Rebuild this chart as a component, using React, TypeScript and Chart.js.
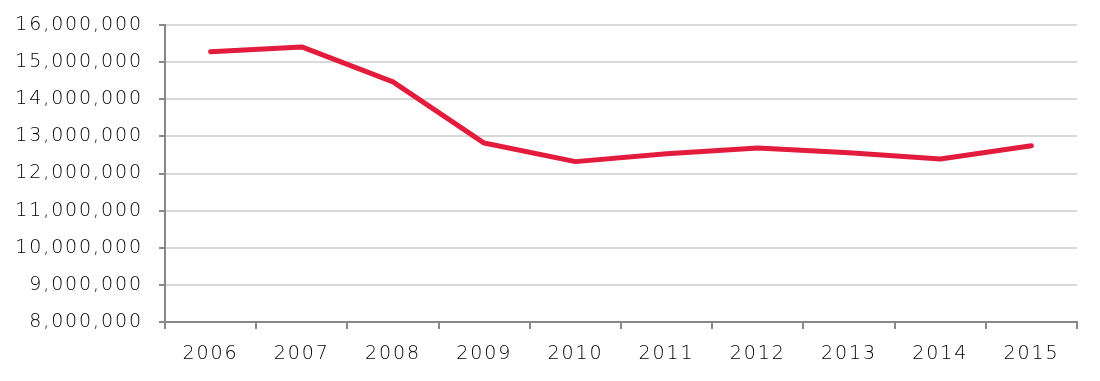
import React, { useEffect, useRef } from "react";
import { Chart, registerables } from "chart.js";

Chart.register(...registerables);

const categories = ["2006", "2007", "2008", "2009", "2010", "2011", "2012", "2013", "2014", "2015"];
const seriesValues = [15280000, 15410000, 14470000, 12820000, 12320000, 12530000, 12690000, 12560000, 12390000, 12750000];
const yMin = 8000000;
const yMax = 16000000;
const yStep = 1000000;

const spacingPlugin = {
  id: "letterSpacing",
  beforeDraw: (chart: any) => {
    chart.ctx.letterSpacing = "1.9px";
  },
};

export default function App() {
  const ref = useRef<HTMLCanvasElement | null>(null);
  useEffect(() => {
    if (!ref.current) return;
    const font = { family: "DejaVu Sans", size: 19, weight: "200" as any };
    const yFont = { family: "DejaVu Sans", size: 19, weight: "200" as any, lineHeight: 0.8 };
    const chart = new Chart(ref.current, {
      type: "line",
      data: {
        labels: categories,
        datasets: [
          {
            data: seriesValues,
            borderColor: "#e31b3c",
            borderWidth: 5,
            pointRadius: 0,
            borderCapStyle: "round",
            borderJoinStyle: "round",
            tension: 0,
          },
        ],
      },
      plugins: [spacingPlugin],
      options: {
        animation: false,
        responsive: false,
        devicePixelRatio: 1,
        layout: { padding: { top: 25, right: 23, left: 0, bottom: 0 } },
        plugins: { legend: { display: false }, tooltip: { enabled: false } },
        scales: {
          x: {
            type: "category",
            offset: true,
            grid: {
              offset: true,
              drawOnChartArea: false,
              drawTicks: true,
              tickLength: 7,
              tickColor: "#888888",
              lineWidth: 2,
            },
            border: { color: "#888888", width: 2 },
            ticks: {
              color: "#000000",
              font,
              padding: 14,
              maxRotation: 0,
            },
            afterFit: (s: any) => {
              s.height = 59;
            },
          },
          y: {
            min: yMin,
            max: yMax,
            grid: {
              color: "#d9d9d9",
              tickColor: "#888888",
              lineWidth: 2,
              tickLength: 6,
            },
            border: { color: "#888888", width: 2 },
            ticks: {
              stepSize: yStep,
              color: "#000000",
              font: yFont,
              padding: 16,
              callback: (v: any) => Number(v).toLocaleString("en-US"),
            },
            afterFit: (s: any) => {
              s.width = 165;
            },
          },
        },
      },
    });
    return () => chart.destroy();
  }, []);
  return (
    <div style={{ position: "fixed", left: 0, top: 0, width: 1100, height: 381, background: "#fff" }}>
      <canvas ref={ref} width={1100} height={381} style={{ width: 1100, height: 381, display: "block" }} />
    </div>
  );
}
